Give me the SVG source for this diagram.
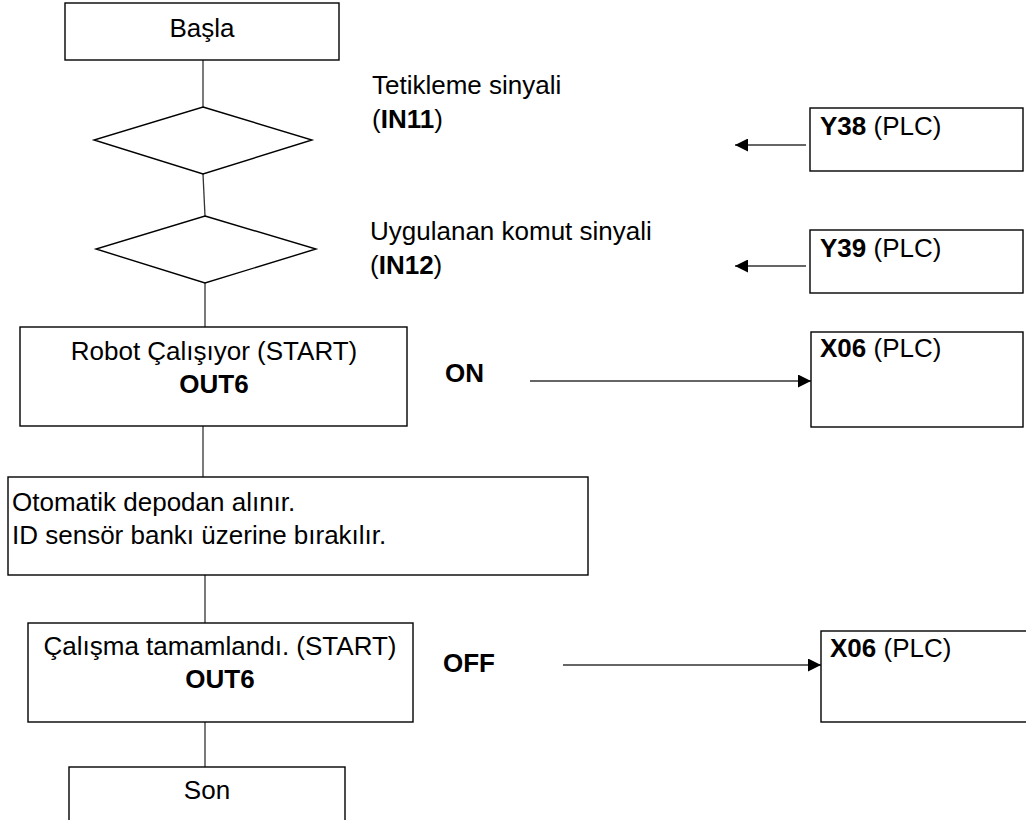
<svg xmlns="http://www.w3.org/2000/svg" width="1026" height="820" viewBox="0 0 1026 820">
  <style>
    text { font-family: "Liberation Sans", Arial, sans-serif; font-size: 26px; fill: #000; }
    .b { font-weight: bold; }
    .mid { text-anchor: middle; }
    .box { fill: #fff; stroke: #000; stroke-width: 1.4; }
    .link { fill: none; stroke: #333; stroke-width: 1.3; }
  </style>
  <defs>
    <marker id="head" viewBox="0 0 10 10" refX="10" refY="5" markerWidth="15" markerHeight="13" markerUnits="userSpaceOnUse" orient="auto">
      <path d="M0,0 L10,5 L0,10 Z" fill="#000"/>
    </marker>
  </defs>
  <rect width="1026" height="820" fill="#fff"/>

  <!-- flow connectors -->
  <g id="connectors">
    <line class="link" x1="203" y1="60" x2="203" y2="107"/>
    <line class="link" x1="203" y1="174" x2="205" y2="216"/>
    <line class="link" x1="205" y1="283" x2="205" y2="327"/>
    <line class="link" x1="203" y1="426" x2="203" y2="477"/>
    <line class="link" x1="205" y1="575" x2="205" y2="623"/>
    <line class="link" x1="205" y1="722" x2="205" y2="767"/>
    <!-- PLC signals -->
    <line class="link" x1="806" y1="145" x2="735" y2="145" marker-end="url(#head)"/>
    <line class="link" x1="806" y1="266" x2="735" y2="266" marker-end="url(#head)"/>
    <line class="link" x1="530" y1="381" x2="811" y2="381" marker-end="url(#head)"/>
    <line class="link" x1="563" y1="665" x2="821" y2="665" marker-end="url(#head)"/>
  </g>

  <g id="start">
    <rect class="box" x="65" y="3" width="274" height="57"/>
    <text class="mid" x="202" y="37">Başla</text>
  </g>

  <g id="trigger">
    <polygon class="box" points="203,107 312,140 203,174 94,140"/>
    <text x="372" y="94">Tetikleme sinyali</text>
    <text x="372" y="128">(<tspan class="b">IN11</tspan>)</text>
  </g>

  <g id="command">
    <polygon class="box" points="205,216 316,249 205,283 96,249"/>
    <text x="370" y="240">Uygulanan komut sinyali</text>
    <text x="370" y="274">(<tspan class="b">IN12</tspan>)</text>
  </g>

  <g id="plc-y38">
    <rect class="box" x="810" y="108" width="213" height="63"/>
    <text x="820" y="135"><tspan class="b">Y38</tspan> (PLC)</text>
  </g>

  <g id="plc-y39">
    <rect class="box" x="810" y="230" width="213" height="63"/>
    <text x="820" y="257"><tspan class="b">Y39</tspan> (PLC)</text>
  </g>

  <g id="running">
    <rect class="box" x="20" y="327" width="387" height="99"/>
    <text class="mid" x="214" y="360">Robot Çalışıyor (START)</text>
    <text class="mid b" x="214" y="393">OUT6</text>
  </g>

  <g id="on-label">
    <text class="b" x="445" y="382">ON</text>
  </g>

  <g id="plc-x06-on">
    <rect class="box" x="811" y="332" width="212" height="95"/>
    <text x="820" y="357"><tspan class="b">X06</tspan> (PLC)</text>
  </g>

  <g id="transfer">
    <rect class="box" x="8" y="477" width="580" height="98"/>
    <text x="12" y="511">Otomatik depodan alınır.</text>
    <text x="12" y="544">ID sensör bankı üzerine bırakılır.</text>
  </g>

  <g id="done">
    <rect class="box" x="28" y="623" width="385" height="99"/>
    <text class="mid" x="220" y="655">Çalışma tamamlandı. (START)</text>
    <text class="mid b" x="220" y="688">OUT6</text>
  </g>

  <g id="off-label">
    <text class="b" x="443" y="672">OFF</text>
  </g>

  <g id="plc-x06-off">
    <rect class="box" x="821" y="631" width="215" height="91"/>
    <text x="830" y="657"><tspan class="b">X06</tspan> (PLC)</text>
  </g>

  <g id="end">
    <rect class="box" x="69" y="767" width="276" height="70"/>
    <text class="mid" x="207" y="799">Son</text>
  </g>
</svg>
